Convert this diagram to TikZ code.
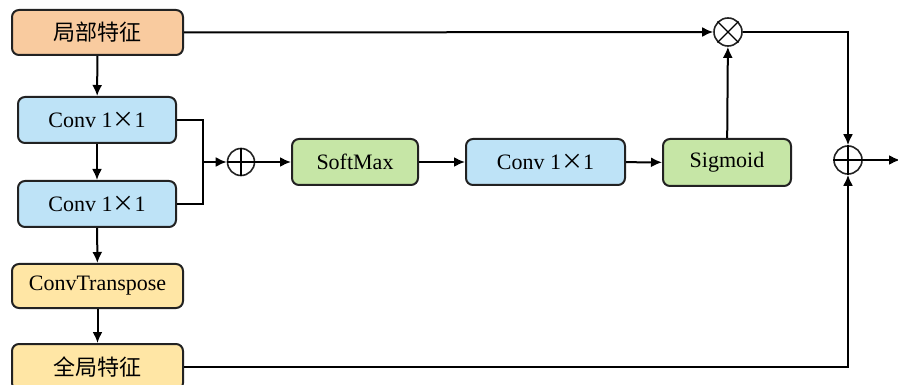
\documentclass[tikz,border=0pt]{standalone}
\usepackage{fontspec}
\setmainfont{Liberation Serif}
\newfontfamily\cjk{Noto Sans CJK SC}
\usetikzlibrary{arrows.meta}

\definecolor{peach}{HTML}{F9CB9F}
\definecolor{skyfill}{HTML}{BEE3F7}
\definecolor{leaf}{HTML}{C6E6A6}
\definecolor{butter}{HTML}{FFE6A5}
\definecolor{edge}{HTML}{222222}

\tikzset{
  blk/.style={draw=edge, line width=2pt, rounded corners=7pt,
    inner sep=0pt, font=\fontsize{22}{25}\selectfont},
  op/.style={draw=edge, line width=1.6pt, circle, inner sep=0pt},
  arr/.style={line width=2pt, -{Latex[length=11pt,width=10pt]}},
  ln/.style={line width=2pt}
}
\newcommand{\by}{{\cjk ×}}

\begin{document}
\begin{tikzpicture}[x=1pt,y=-1pt]
  \useasboundingbox (0,0) rectangle (898,385);

  % left column
  \node[blk, fill=peach, minimum width=171pt, minimum height=45pt] (loc) at (97.5,32.5) {\cjk 局部特征};
  \node[blk, fill=skyfill, minimum width=158pt, minimum height=46pt] (c1) at (97,120) {Conv 1\by1};
  \node[blk, fill=skyfill, minimum width=158pt, minimum height=46pt] (c2) at (97,204) {Conv 1\by1};
  \node[blk, fill=butter, minimum width=171pt, minimum height=44pt] (ct) at (97.5,286) {ConvTranspose};
  \node[blk, fill=butter, minimum width=171pt, minimum height=46pt] (glob) at (97.5,367) {\cjk 全局特征};

  % middle row
  \node[op, minimum size=27pt] (p1) at (241,162) {};
  \draw[line width=1.3pt] (p1.north) -- (p1.south) (p1.west) -- (p1.east);
  \node[blk, fill=leaf, minimum width=126pt, minimum height=46pt] (soft) at (355,162) {SoftMax};
  \node[blk, fill=skyfill, minimum width=159pt, minimum height=46pt] (c3) at (545.5,162) {Conv 1\by1};
  \node[blk, fill=leaf, minimum width=128pt, minimum height=47pt] (sig) at (727,162.5) {Sigmoid};

  % operators on the right
  \node[op, minimum size=28pt] (mul) at (728,32) {};
  \draw[line width=1.3pt] (mul.north east) -- (mul.south west) (mul.north west) -- (mul.south east);
  \node[op, minimum size=28pt] (p2) at (848,160) {};
  \draw[line width=1.3pt] (p2.north) -- (p2.south) (p2.west) -- (p2.east);

  \coordinate (split) at (203,162);
  \coordinate (out) at (900,160);

  % connectors
  \draw[arr] (loc) -- (c1);
  \draw[arr] (c1) -- (c2);
  \draw[arr] (c2) -- (ct);
  \draw[arr] (ct) -- (glob);
  \draw[ln] (c1.east) -| (split) |- (c2.east);
  \draw[arr] (split) -- (p1.west);
  \draw[arr] (p1) -- (soft);
  \draw[arr] (soft) -- (c3);
  \draw[arr] (c3) -- (sig);
  \draw[arr] (sig) -- (mul);
  \draw[arr] (loc.east) -- (mul.west);
  \draw[arr] (mul.east) -| (p2.north);
  \draw[arr] (glob.east) -| (p2.south);
  \draw[arr] (p2.east) -- (out);
\end{tikzpicture}
\end{document}
